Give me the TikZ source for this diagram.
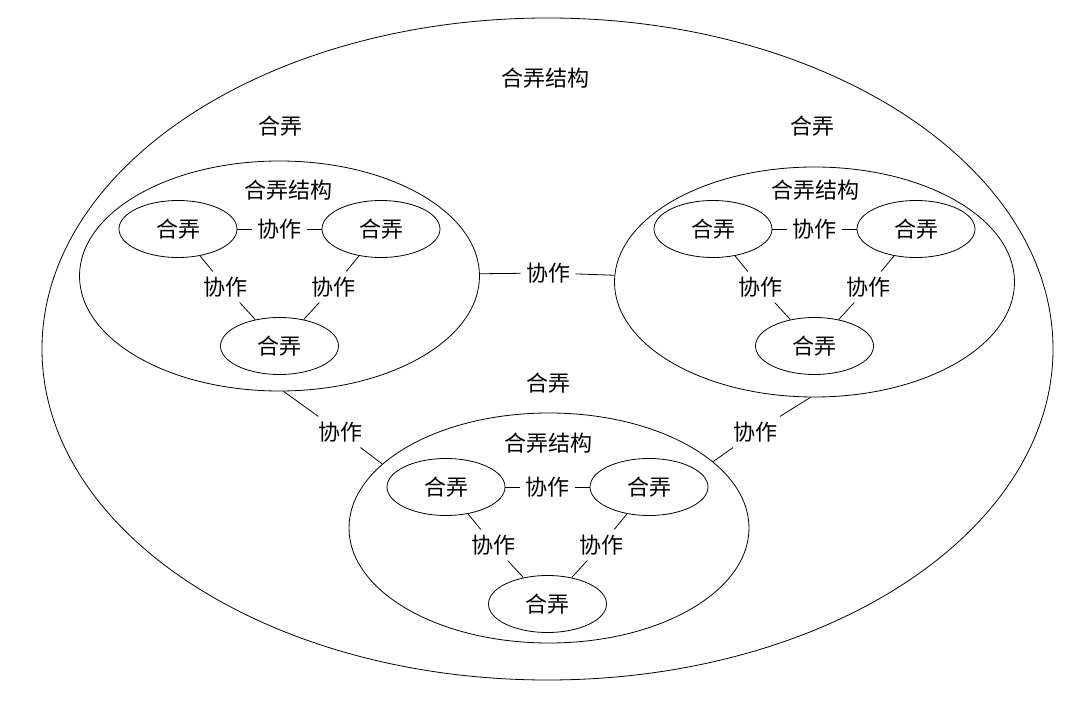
\documentclass[tikz,border=0pt]{standalone}
\usepackage{fontspec}
\setmainfont{Noto Sans CJK SC}
\usetikzlibrary{shapes.geometric}
\tikzset{
    holon/.style={draw, ellipse, inner sep=0pt, minimum width=118pt, minimum height=57pt},
    holarchy/.style={draw, ellipse, inner sep=0pt, minimum width=400pt, minimum height=230pt},
    coop/.style={inner sep=5pt},
}

\begin{document}
\begin{tikzpicture}[x=1pt, y=-1pt, line width=0.8pt, font=\fontsize{22}{26}\selectfont]
                    \useasboundingbox (0,0) rectangle (1080,711);
                    \node[draw, ellipse, inner sep=0pt, minimum width=1011pt, minimum height=662pt] (whole) at (547.5,349) {};
                    \node (whole-title) at (545,78) {合弄结构};
                    \node (l-name) at (280,126) {合弄};
                    \node (r-name) at (812,126) {合弄};
                    \node (b-name) at (548,383) {合弄};
                    \node[holarchy] (l) at (279.5,276) {};
                    \node[holarchy] (r) at (814.5,282) {};
                    \node[holarchy] (b) at (549,528) {};
                    \foreach \g/\x/\y/\tx/\ty in {l/279.5/229/8.5/-39, r/814.5/229/0.5/-39, b/547.5/487/0.5/-44}{
                        \begin{scope}[shift={(\x,\y)}]
                            \node (\g-title) at (\tx,\ty) {合弄结构};
                            \node[holon] (\g-1) at (-101.5,0) {合弄};
                            \node[holon] (\g-2) at (101.5,0) {合弄};
                            \node[holon] (\g-3) at (0,117) {合弄};
                            \node[coop] (\g-12) at (0,0) {协作};
                            \node[coop] (\g-13) at (-54,58) {协作};
                            \node[coop] (\g-23) at (54,58) {协作};
                            \draw (\g-1) -- (\g-12) -- (\g-2);
                            \draw (\g-1) -- (\g-13) -- (\g-3);
                            \draw (\g-2) -- (\g-23) -- (\g-3);
                        \end{scope}
                    }
                    \node[coop] (lr) at (548,273) {协作};
                    \node[coop] (lb) at (340,432) {协作};
                    \node[coop] (rb) at (755,432) {协作};
                    \draw (l) -- (lr) -- (r);
                    \draw (l.-88) -- (lb) -- (b.159);
                    \draw (r.-92) -- (rb) -- (b.22);
                \end{tikzpicture}
\end{document}
